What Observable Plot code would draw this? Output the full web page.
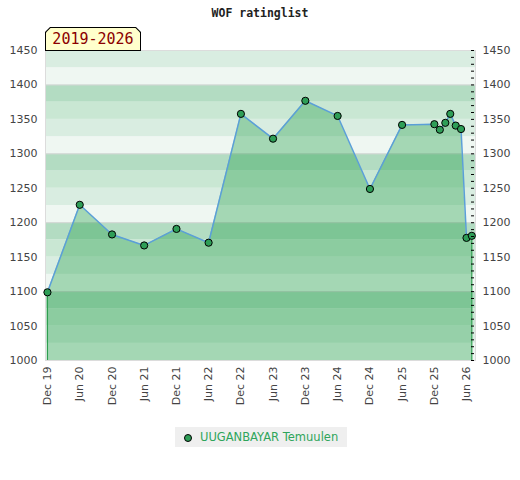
<!DOCTYPE html>
<html>
<head>
<meta charset="utf-8">
<script src="https://cdn.jsdelivr.net/npm/d3@7"></script>
<script src="https://cdn.jsdelivr.net/npm/@observablehq/plot@0.6"></script>
<style>
  body { margin: 0; background: #fff; font-family: "DejaVu Sans", sans-serif; }
  #wrap { position: relative; width: 520px; height: 480px; }
  #title { position: absolute; left: 0; top: 6px; width: 520px; text-align: center;
    font-family: "DejaVu Sans Mono", monospace; font-weight: bold; font-size: 11.5px; color: #222; }
  #badge { position: absolute; left: 45px; top: 27px; width: 96px; height: 24px; background: #000;
    clip-path: polygon(5px 0, 91px 0, 96px 5px, 96px 24px, 0 24px, 0 5px); z-index: 2; }
  #badge div { position: absolute; left: 1px; top: 1px; width: 94px; height: 22px; background: #ffffcc;
    clip-path: polygon(4.5px 0, 89.5px 0, 94px 4.5px, 94px 22px, 0 22px, 0 4.5px);
    font-family: "DejaVu Sans Mono", monospace; font-size: 15px; color: #8b0000; line-height: 23px; text-align: center; }
  #chart { position: absolute; left: 0; top: 0; }
  #legend { position: absolute; left: 175px; top: 427px; width: 172px; height: 20px; background: #efefef;
    font-size: 11.5px; color: #2ea55a; line-height: 20px; }
  #legend .dot { position: absolute; left: 9px; top: 6.5px; width: 6px; height: 6px; border-radius: 50%;
    background: #2e9e57; border: 1px solid #000; }
  #legend span { position: absolute; left: 25px; top: 0; }
</style>
</head>
<body>
<div id="wrap">
  <div id="chart"></div>
  <div id="title"></div>
  <div id="badge"><div></div></div>
  <div id="legend"><i class="dot"></i><span></span></div>
</div>
<script>
const titleText = "WOF ratinglist";
const periodLabel = "2019-2026";
const playerName = "UUGANBAYAR Temuulen";

const months = ["2019-12","2020-06","2020-12","2021-06","2021-12","2022-06","2022-12","2023-06",
  "2023-12","2024-06","2024-12","2025-06","2025-12","2026-01","2026-02","2026-03","2026-04",
  "2026-05","2026-06","2026-07"];
const ratings = [1099,1226,1183,1167,1191,1171,1358,1322,1377,1355,1249,1342,1343,1335,1345,1358,
  1341,1336,1178,1181];

const xTicks = ["2019-12","2020-06","2020-12","2021-06","2021-12","2022-06","2022-12","2023-06",
  "2023-12","2024-06","2024-12","2025-06","2025-12","2026-06"];
const yLabels = [1000,1050,1100,1150,1200,1250,1300,1350,1400,1450];
const yMinor = d3.range(1000, 1451, 10);
const gridLines = [1100,1200,1300,1400];
const bandStarts = d3.range(1000, 1450, 25);

const bandColors = ["#eff7f2", "#d9ede1", "#c9e7d3", "#b3dcc2"];

document.getElementById("title").textContent = titleText;
document.querySelector("#badge div").textContent = periodLabel;
document.querySelector("#legend span").textContent = playerName;

const parse = d3.utcParse("%Y-%m");
const data = months.map((m, i) => ({date: parse(m), value: ratings[i]}));
const xDomain = [new Date(Date.UTC(2019, 10, 20)), new Date(Date.UTC(2026, 6, 22))];
const bands = bandStarts.map((b, i) => ({y1: b, y2: b + 25, color: bandColors[i % 4]}));
const edges = [data[0], data[data.length - 1]];

const fmt = d3.utcFormat("%b %y");

const chart = Plot.plot({
  width: 520,
  height: 420,
  marginTop: 50,
  marginLeft: 45,
  marginRight: 45,
  marginBottom: 60,
  style: {fontFamily: "DejaVu Sans, sans-serif", fontSize: "11px", color: "#444", background: "transparent"},
  x: {type: "utc", domain: xDomain},
  y: {domain: [1000, 1450]},
  color: {type: "identity"},
  marks: [
    Plot.rect(bands, {x1: () => xDomain[0], x2: () => xDomain[1], y1: "y1", y2: "y2", fill: "color"}),
    Plot.ruleY(gridLines, {stroke: "#d6d6d6"}),
    Plot.frame({stroke: "#dcdcdc"}),
    Plot.areaY(data, {x: "date", y1: 1000, y2: "value", fill: "rgb(25,154,65)", fillOpacity: 0.35}),
    Plot.ruleX(edges, {x: "date", y1: 1000, y2: "value", stroke: "#2e9e4f", strokeWidth: 1.2}),
    Plot.lineY(data, {x: "date", y: "value", stroke: "#5b9fd8", strokeWidth: 1.5}),
    Plot.dot(data, {x: "date", y: "value", r: 3.6, fill: "#2e9e57", stroke: "#000", strokeWidth: 1}),
    Plot.ruleY(yMinor, {insetLeft: 426, insetRight: 1, stroke: "#000"}),
    Plot.axisY({anchor: "left", ticks: yLabels, tickSize: 0, tickPadding: 8, tickFormat: "d", label: null}),
    Plot.axisY({anchor: "right", ticks: yLabels, tickSize: 0, tickPadding: 7, tickFormat: "d", label: null}),
    Plot.axisX({ticks: xTicks.map(parse), tickFormat: fmt, tickSize: 0, tickRotate: -90, tickPadding: 6, label: null})
  ]
});
document.getElementById("chart").appendChild(chart);
</script>
</body>
</html>
